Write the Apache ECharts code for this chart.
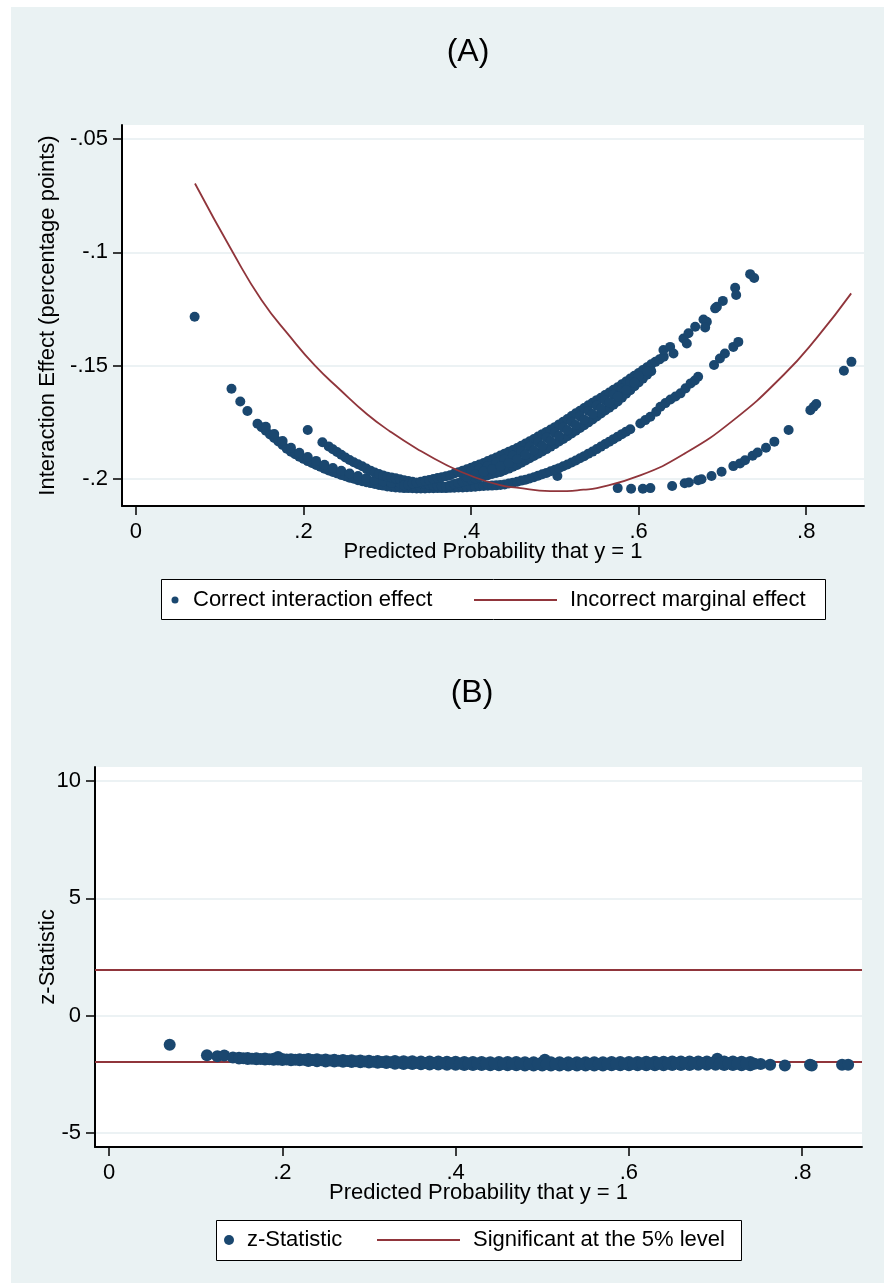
<!DOCTYPE html>
<html>
<head>
<meta charset="utf-8">
<title>Interaction effect vs predicted probability</title>
<script src="https://cdn.jsdelivr.net/npm/echarts@6.0.0/dist/echarts.min.js"></script>
<style>
  html, body { margin: 0; padding: 0; background: #fff; }
  #bg { position: absolute; left: 11px; top: 7px; width: 873px; height: 1276px; background: #eaf2f3; }
  #main { position: absolute; left: 0; top: 0; width: 884px; height: 1283px; }
</style>
</head>
<body>
<div id="bg"></div>
<div id="main"></div>
<script>
// panel A: correct interaction effect
var effSingles = [[0.070,-0.1284],[0.114,-0.1602],[0.1245,-0.1658],[0.133,-0.1700],[0.205,-0.1784],[0.503,-0.1987]];
var effLeftBand = [[0.145,-0.1756],[0.150,-0.1771],[0.155,-0.1787],[0.160,-0.1803],[0.165,-0.1819],[0.170,-0.1834],[0.175,-0.1850],
  [0.180,-0.1866],[0.185,-0.1880],[0.190,-0.1891],[0.195,-0.1902],[0.200,-0.1911],[0.205,-0.1921],[0.210,-0.1929],[0.215,-0.1938],
  [0.220,-0.1946],[0.225,-0.1955],[0.230,-0.1962],[0.235,-0.1969],[0.240,-0.1975],[0.245,-0.1982],[0.250,-0.1988],[0.255,-0.1994],
  [0.260,-0.1999],[0.265,-0.2005],[0.270,-0.2010],[0.275,-0.2014],[0.280,-0.2018],[0.285,-0.2022],[0.290,-0.2026],[0.295,-0.2029],
  [0.300,-0.2033],[0.305,-0.2035],[0.310,-0.2037],[0.315,-0.2038],[0.320,-0.2040],[0.325,-0.2040],[0.330,-0.2041],[0.335,-0.2042],
  [0.340,-0.2042],[0.345,-0.2042],[0.350,-0.2041],[0.355,-0.2041],[0.360,-0.2040],[0.365,-0.2040],[0.370,-0.2040],[0.375,-0.2039]];
var effLeftBand2 = [[0.155,-0.1769],[0.165,-0.1801],[0.175,-0.1832],[0.185,-0.1862],[0.195,-0.1884],[0.205,-0.1903],[0.215,-0.1920],
  [0.225,-0.1937],[0.235,-0.1951],[0.245,-0.1964],[0.255,-0.1976],[0.265,-0.1987],[0.275,-0.1996],[0.285,-0.2004],[0.295,-0.2011],
  [0.305,-0.2017],[0.315,-0.2020]];
var effUpperLeft = [[0.2225,-0.1838],[0.230,-0.1856],[0.235,-0.1869],[0.240,-0.1881],[0.245,-0.1893],[0.250,-0.1905],[0.255,-0.1916],
  [0.260,-0.1926],[0.265,-0.1935],[0.270,-0.1944],[0.275,-0.1954],[0.280,-0.1963],[0.285,-0.1971],[0.290,-0.1978],[0.295,-0.1984],
  [0.300,-0.1990],[0.305,-0.1993],[0.310,-0.1997],[0.315,-0.2001],[0.320,-0.2005],[0.325,-0.2009],[0.330,-0.2012],[0.335,-0.2016],
  [0.340,-0.2019],[0.345,-0.2022],[0.350,-0.2025],[0.355,-0.2028],[0.360,-0.2030],[0.365,-0.2032],[0.370,-0.2034],[0.375,-0.2035]];
var effMidBand = [[0.38,-0.2038],[0.385,-0.2037],[0.39,-0.2037],[0.395,-0.2036],[0.40,-0.2035],[0.405,-0.2034],[0.41,-0.2032],
  [0.415,-0.2031],[0.42,-0.2030],[0.425,-0.2029],[0.43,-0.2028],[0.435,-0.2026],[0.44,-0.2024],[0.445,-0.2020],[0.45,-0.2016],
  [0.455,-0.2012],[0.46,-0.2007],[0.465,-0.2003],[0.47,-0.1998],[0.475,-0.1992],[0.48,-0.1985],[0.485,-0.1979],[0.49,-0.1973],
  [0.495,-0.1966],[0.50,-0.1959],[0.505,-0.1952],[0.51,-0.1944],[0.515,-0.1936],[0.52,-0.1927],[0.525,-0.1918],[0.53,-0.1908],
  [0.535,-0.1899],[0.54,-0.1888],[0.545,-0.1879],[0.55,-0.1868],[0.555,-0.1857],[0.56,-0.1846],[0.565,-0.1835],[0.57,-0.1824],
  [0.575,-0.1813],[0.58,-0.1802],[0.585,-0.1791],[0.59,-0.1780],[0.602,-0.1755],[0.608,-0.1740],[0.614,-0.1725],[0.621,-0.1703],
  [0.626,-0.1681],[0.632,-0.1665],[0.638,-0.1649],[0.644,-0.1636],[0.650,-0.1622],[0.656,-0.1600],[0.662,-0.1578],[0.667,-0.1565],
  [0.671,-0.1549],[0.690,-0.1497],[0.697,-0.1468],[0.703,-0.1446],[0.713,-0.1417],[0.719,-0.1395]];
var effUpperTop = [[0.320,-0.2027],[0.325,-0.2024],[0.330,-0.2020],[0.335,-0.2016],[0.340,-0.2012],[0.345,-0.2008],[0.350,-0.2004],
  [0.355,-0.2000],[0.360,-0.1996],[0.365,-0.1992],[0.370,-0.1988],[0.375,-0.1983],[0.380,-0.1976],[0.385,-0.1970],[0.390,-0.1963],
  [0.395,-0.1957],[0.400,-0.1950],[0.405,-0.1943],[0.410,-0.1936],[0.415,-0.1929],[0.420,-0.1921],[0.425,-0.1913],[0.430,-0.1905],
  [0.435,-0.1896],[0.440,-0.1888],[0.445,-0.1880],[0.450,-0.1872],[0.455,-0.1863],[0.460,-0.1853],[0.465,-0.1843],[0.470,-0.1833],
  [0.475,-0.1823],[0.480,-0.1812],[0.485,-0.1802],[0.490,-0.1792],[0.495,-0.1782],[0.500,-0.1771],[0.505,-0.1759],[0.510,-0.1747],
  [0.515,-0.1735],[0.520,-0.1722],[0.525,-0.1710],[0.530,-0.1699],[0.535,-0.1687],[0.540,-0.1675],[0.545,-0.1664],[0.550,-0.1652],
  [0.555,-0.1641],[0.560,-0.1629],[0.565,-0.1618],[0.570,-0.1606],[0.575,-0.1595],[0.580,-0.1582],[0.585,-0.1570],[0.590,-0.1557],
  [0.595,-0.1544],[0.600,-0.1532],[0.605,-0.1519],[0.610,-0.1507],[0.615,-0.1494],[0.620,-0.1483],[0.625,-0.1472],[0.630,-0.1460],
  [0.6296,-0.1431],[0.6376,-0.1417],[0.6416,-0.1446],[0.6535,-0.1380],[0.6575,-0.1402],[0.6595,-0.1357],[0.6675,-0.1328],
  [0.6774,-0.1296],[0.6814,-0.1306],[0.6794,-0.1331],[0.6913,-0.1247],[0.6934,-0.1240],[0.7005,-0.1214],[0.7152,-0.1156],
  [0.7164,-0.1188],[0.7331,-0.1096],[0.7379,-0.1113]];
var effUpperLow = [[0.375,-0.2027],[0.380,-0.2022],[0.385,-0.2017],[0.390,-0.2012],[0.395,-0.2007],[0.400,-0.2003],[0.405,-0.1998],
  [0.410,-0.1993],[0.415,-0.1988],[0.420,-0.1983],[0.425,-0.1978],[0.430,-0.1973],[0.435,-0.1969],[0.440,-0.1961],[0.445,-0.1954],
  [0.450,-0.1946],[0.455,-0.1938],[0.460,-0.1928],[0.465,-0.1918],[0.470,-0.1908],[0.475,-0.1898],[0.480,-0.1888],[0.485,-0.1878],
  [0.490,-0.1868],[0.495,-0.1857],[0.500,-0.1846],[0.505,-0.1834],[0.510,-0.1823],[0.515,-0.1811],[0.520,-0.1799],[0.525,-0.1787],
  [0.530,-0.1775],[0.535,-0.1763],[0.540,-0.1750],[0.545,-0.1737],[0.550,-0.1724],[0.555,-0.1711],[0.560,-0.1698],[0.565,-0.1685],
  [0.570,-0.1672],[0.575,-0.1658],[0.580,-0.1641],[0.585,-0.1624],[0.590,-0.1608],[0.595,-0.1591],[0.600,-0.1574],[0.605,-0.1557],
  [0.610,-0.1540],[0.615,-0.1524]];
var effUpperMid = [[0.39,-0.1979],[0.40,-0.1968],[0.41,-0.1955],[0.42,-0.1942],[0.43,-0.1928],[0.44,-0.1913],[0.45,-0.1897],
  [0.46,-0.1878],[0.47,-0.1858],[0.48,-0.1838],[0.49,-0.1817],[0.50,-0.1796],[0.51,-0.1772],[0.52,-0.1748],[0.53,-0.1724],
  [0.54,-0.1700],[0.55,-0.1676],[0.56,-0.1652],[0.57,-0.1628],[0.58,-0.1602],[0.59,-0.1574],[0.60,-0.1546],[0.61,-0.1524],
  [0.395,-0.1991],[0.405,-0.1980],[0.415,-0.1968],[0.425,-0.1957],[0.435,-0.1944],[0.445,-0.1929],[0.455,-0.1912],[0.465,-0.1893],
  [0.475,-0.1873],[0.485,-0.1853],[0.495,-0.1832],[0.505,-0.1809],[0.515,-0.1785],[0.525,-0.1762],[0.535,-0.1738],[0.545,-0.1713],
  [0.555,-0.1688],[0.565,-0.1663],[0.575,-0.1636],[0.585,-0.1607],[0.595,-0.1575]];
var effLowDots = [[0.575,-0.2040],[0.591,-0.2043],[0.605,-0.2043],[0.614,-0.2040],[0.640,-0.2031],[0.655,-0.2019],[0.660,-0.2015],
  [0.671,-0.2005],[0.675,-0.2001],[0.687,-0.1987],[0.699,-0.1968],[0.713,-0.1943],[0.721,-0.1931],[0.727,-0.1917],[0.736,-0.1897],
  [0.742,-0.1883],[0.752,-0.1862],[0.762,-0.1835],[0.779,-0.1784],[0.805,-0.1696],[0.809,-0.1681],[0.812,-0.1669],[0.845,-0.1522],
  [0.854,-0.1483]];
// incorrect marginal effect curve
var marginalCurve = [[0.0704,-0.0696],[0.1162,-0.1004],[0.150,-0.1211],[0.1839,-0.1372],[0.2137,-0.1500],[0.2436,-0.1606],
  [0.2755,-0.1713],[0.3033,-0.1790],[0.3352,-0.1866],[0.3710,-0.1939],[0.4027,-0.1990],[0.4346,-0.2027],[0.4545,-0.2038],
  [0.4943,-0.2053],[0.5143,-0.2053],[0.5341,-0.2047],[0.5501,-0.2040],[0.6018,-0.1984],[0.6535,-0.1891],[0.7132,-0.1740],
  [0.7729,-0.1541],[0.8128,-0.1376],[0.8537,-0.1181]];

// panel B: z statistic, band read as upper, middle and lower rows
var zX1 = [0.15,0.16,0.17,0.18,0.19,0.20,0.21,0.22,0.23,0.24,0.25,0.26,0.27,0.28,0.29,0.30,0.31,0.32,0.33,0.34,
  0.35,0.36,0.37,0.38,0.39,0.40,0.41,0.42,0.43,0.44,0.45,0.46,0.47,0.48,0.49,0.50,0.51,0.52,0.53,0.54,
  0.55,0.56,0.57,0.58,0.59,0.60,0.61,0.62,0.63,0.64,0.65,0.66,0.67,0.68,0.69,0.70,0.71,0.72,0.73,0.74];
var zHi = [-1.79,-1.81,-1.82,-1.83,-1.84,-1.85,-1.86,-1.86,-1.85,-1.86,-1.87,-1.88,-1.89,-1.90,-1.91,-1.92,-1.93,-1.94,
  -1.93,-1.94,-1.94,-1.95,-1.96,-1.96,-1.97,-1.97,-1.98,-1.98,-1.98,-1.99,
  -1.98,-1.98,-1.98,-1.99,-1.99,-1.99,-1.99,-1.99,-1.99,-1.99,-1.99,-1.99,-1.99,-1.98,-1.98,-1.98,-1.98,-1.97,-1.97,-1.97,
  -1.96,-1.96,-1.96,-1.95,-1.95,-1.95,-1.96,-1.96,-1.97,-1.98];
var zLo = [-1.83,-1.85,-1.86,-1.87,-1.88,-1.89,-1.90,-1.90,-1.93,-1.94,-1.95,-1.96,-1.97,-1.98,-1.99,-2.00,-2.01,-2.02,
  -2.05,-2.06,-2.06,-2.07,-2.08,-2.08,-2.09,-2.09,-2.10,-2.10,-2.10,-2.11,
  -2.12,-2.12,-2.12,-2.13,-2.13,-2.13,-2.13,-2.13,-2.13,-2.13,-2.13,-2.13,-2.13,-2.12,-2.12,-2.12,-2.12,-2.11,-2.11,-2.11,
  -2.10,-2.10,-2.10,-2.09,-2.09,-2.09,-2.10,-2.10,-2.11,-2.12];
var zX2 = [0.155,0.165,0.175,0.185,0.195,0.205,0.215,0.225,0.235,0.245,0.255,0.265,0.275,0.285,0.295,0.305,0.315,0.325,0.335,0.345,
  0.355,0.365,0.375,0.385,0.395,0.405,0.415,0.425,0.435,0.445,0.455,0.465,0.475,0.485,0.495,0.505,0.515,0.525,0.535,0.545,
  0.555,0.565,0.575,0.585,0.595,0.605,0.615,0.625,0.635,0.645,0.655,0.665,0.675,0.685,0.695,0.705,0.715,0.725,0.735,0.745];
var zMid = [-1.820,-1.835,-1.845,-1.855,-1.865,-1.875,-1.880,-1.885,-1.895,-1.905,-1.915,-1.925,-1.935,-1.945,-1.955,-1.965,
  -1.975,-1.985,-1.995,-2.000,-2.005,-2.015,-2.020,-2.025,-2.030,-2.035,-2.040,-2.040,-2.045,-2.050,-2.050,-2.050,-2.055,-2.060,
  -2.060,-2.060,-2.060,-2.060,-2.060,-2.060,-2.060,-2.060,-2.055,-2.050,-2.050,-2.050,-2.045,-2.040,-2.040,-2.035,-2.030,-2.030,
  -2.025,-2.020,-2.020,-2.025,-2.030,-2.035,-2.045,-2.050];
var zExtra = [[0.070,-1.24],[0.113,-1.69],[0.125,-1.73],[0.133,-1.70],[0.143,-1.78],[0.195,-1.76],[0.503,-1.88],[0.702,-1.84],
  [0.752,-2.06],[0.763,-2.09],[0.780,-2.13],[0.809,-2.09],[0.811,-2.13],[0.846,-2.09],[0.853,-2.09]];
var sigLevels = [1.96, -1.96];

// axes
var xRangeA = [-0.0167, 0.869], yRangeA = [-0.2119, -0.0438];
var xRangeB = [-0.0162, 0.869], yRangeB = [-5.6, 10.6];
var xTicks = [0, 0.2, 0.4, 0.6, 0.8], xTickText = ['0', '.2', '.4', '.6', '.8'];
var effTicks = [-0.2, -0.15, -0.1, -0.05], effTickText = ['-.2', '-.15', '-.1', '-.05'];
var zTicks = [-5, 0, 5, 10], zTickText = ['-5', '0', '5', '10'];

var navy = '#1a476f', maroon = '#90353b', gridColor = '#e6eef0';
var font = '"Liberation Sans", Arial, Helvetica, sans-serif';
var lineIcon = 'path://M0 0H83V2H0Z';

var effAll = [].concat(effSingles, effLeftBand, effLeftBand2, effUpperLeft, effMidBand, effUpperTop, effUpperLow, effUpperMid, effLowDots);
var zAll = zExtra.slice();
for (var i = 0; i < zX1.length; i++) {
  zAll.push([zX1[i], zHi[i]]);
  zAll.push([zX1[i], zLo[i]]);
}
for (var j = 0; j < zX2.length; j++) {
  zAll.push([zX2[j], zMid[j]]);
}

function tickText(ticks, texts) {
  return function (v) {
    var k = ticks.indexOf(v);
    return k >= 0 ? texts[k] : '';
  };
}
var txt = { color: '#000', fontSize: 22, fontFamily: font };
function legendText(pad) {
  return { color: '#000', fontSize: 22, fontFamily: font, padding: [0, 0, 0, pad] };
}

function xAxisOf(g, range) {
  return {
    type: 'value', gridIndex: g, min: range[0], max: range[1],
    name: 'Predicted Probability that y = 1', nameLocation: 'middle', nameGap: 35, nameTextStyle: txt, nameMoveOverlap: false,
    axisLine: { onZero: false, lineStyle: { color: '#000', width: 2 } },
    axisTick: { length: 9, customValues: xTicks, lineStyle: { color: '#000', width: 1.5 } },
    axisLabel: { customValues: xTicks, formatter: tickText(xTicks, xTickText), margin: 15, color: '#000', fontSize: 22, fontFamily: font },
    splitLine: { show: false }
  };
}
function yAxisOf(g, range, ticks, texts, name, gap) {
  return {
    type: 'value', gridIndex: g, min: range[0], max: range[1],
    name: name, nameLocation: 'middle', nameGap: gap, nameTextStyle: txt, nameMoveOverlap: false,
    axisLine: { onZero: false, lineStyle: { color: '#000', width: 2 } },
    axisTick: { length: 9, customValues: ticks, lineStyle: { color: '#000', width: 1.5 } },
    axisLabel: { customValues: ticks, formatter: tickText(ticks, texts), margin: 14, color: '#000', fontSize: 22, fontFamily: font },
    splitLine: { show: true, lineStyle: { color: gridColor, width: 1.5 } }
  };
}

var myChart = echarts.init(document.getElementById('main'));
var option = {
  animation: false,
  graphic: [
    { type: 'text', x: 468, y: 52, style: { text: '(A)', fill: '#000', fontSize: 32, fontFamily: font, align: 'center', verticalAlign: 'middle' } },
    { type: 'text', x: 472, y: 693, style: { text: '(B)', fill: '#000', fontSize: 32, fontFamily: font, align: 'center', verticalAlign: 'middle' } },
    { type: 'rect', z: 0, shape: { x: 161.5, y: 579.5, width: 664, height: 40 }, style: { fill: '#fff', stroke: '#000', lineWidth: 1 } },
    { type: 'rect', z: 0, shape: { x: 216.5, y: 1220.5, width: 525, height: 40 }, style: { fill: '#fff', stroke: '#000', lineWidth: 1 } }
  ],
  grid: [
    { left: 122, top: 125, width: 742, height: 381, show: true, backgroundColor: '#fff', borderWidth: 0 },
    { left: 95, top: 767, width: 767, height: 380, show: true, backgroundColor: '#fff', borderWidth: 0 }
  ],
  xAxis: [xAxisOf(0, xRangeA), xAxisOf(1, xRangeB)],
  yAxis: [
    yAxisOf(0, yRangeA, effTicks, effTickText, 'Interaction Effect (percentage points)', 63),
    yAxisOf(1, yRangeB, zTicks, zTickText, 'z-Statistic', 36)
  ],
  legend: [
    { data: [{ name: 'Correct interaction effect', icon: 'circle' }], left: 171.5, top: 589, padding: 0, itemWidth: 7, itemHeight: 7, textStyle: legendText(9.5) },
    { data: [{ name: 'Incorrect marginal effect', icon: lineIcon }], left: 474, top: 589, padding: 0, itemWidth: 83, itemHeight: 2, textStyle: legendText(8) },
    { data: [{ name: 'z-Statistic', icon: 'circle' }], left: 224, top: 1229, padding: 0, itemWidth: 10, itemHeight: 10, textStyle: legendText(8) },
    { data: [{ name: 'Significant at the 5% level', icon: lineIcon }], left: 377, top: 1229, padding: 0, itemWidth: 83, itemHeight: 2, textStyle: legendText(8) }
  ],
  series: [
    {
      name: 'Correct interaction effect', type: 'scatter', xAxisIndex: 0, yAxisIndex: 0, z: 2,
      symbolSize: 10, itemStyle: { color: navy, opacity: 1 }, data: effAll
    },
    {
      name: 'Incorrect marginal effect', type: 'line', xAxisIndex: 0, yAxisIndex: 0, z: 3,
      smooth: 0.5, smoothConstraint: false, symbol: 'none', lineStyle: { color: maroon, width: 1.8 }, itemStyle: { color: maroon }, data: marginalCurve
    },
    {
      name: 'Significant at the 5% level', type: 'line', xAxisIndex: 1, yAxisIndex: 1, z: 1,
      symbol: 'none', lineStyle: { color: maroon, width: 2 }, itemStyle: { color: maroon }, data: [],
      markLine: {
        silent: true, z: 1, symbol: 'none', label: { show: false },
        lineStyle: { color: maroon, width: 2, type: 'solid' },
        data: sigLevels.map(function (v) { return { yAxis: v }; })
      }
    },
    {
      name: 'z-Statistic', type: 'scatter', xAxisIndex: 1, yAxisIndex: 1, z: 2,
      symbolSize: 12, itemStyle: { color: navy, opacity: 1 }, data: zAll
    }
  ]
};
myChart.setOption(option);
window.addEventListener('resize', function () {
  myChart.resize();
});
</script>
</body>
</html>
